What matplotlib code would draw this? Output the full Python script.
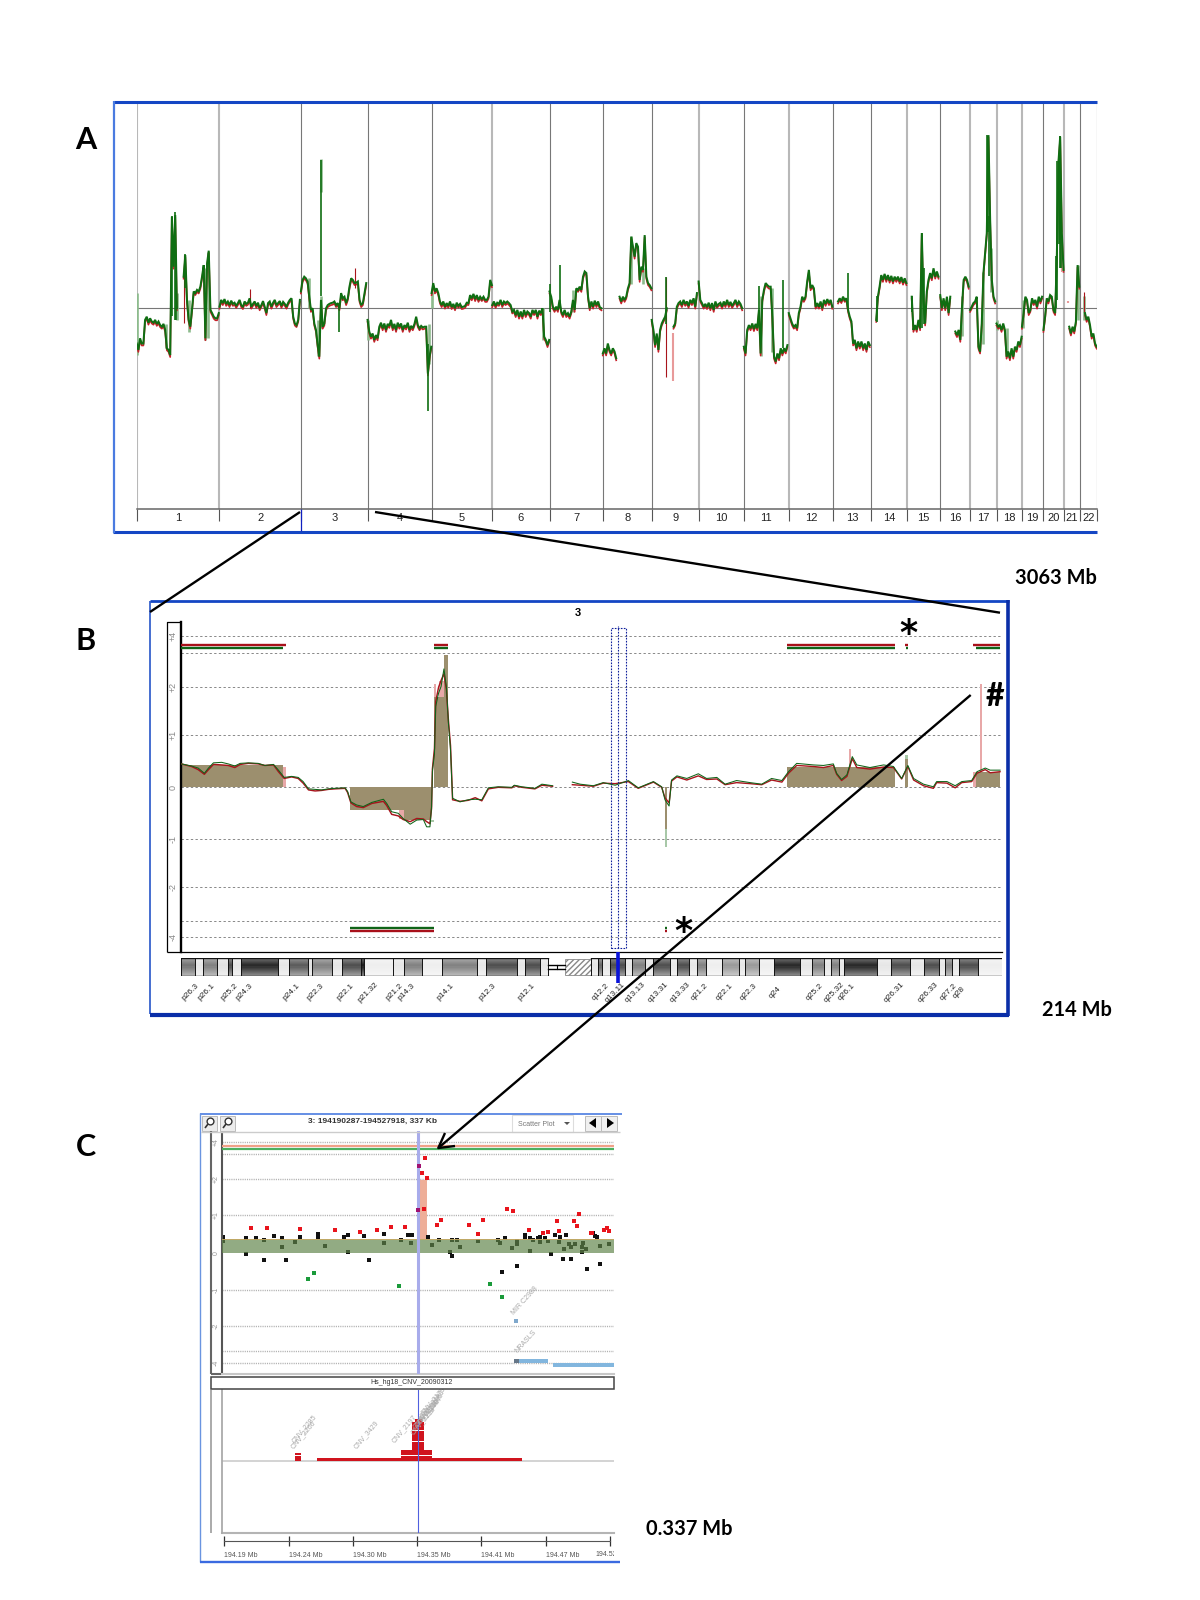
import numpy as np
import matplotlib
matplotlib.use("Agg")
import matplotlib.pyplot as plt
from matplotlib.patches import Rectangle, Polygon, Circle
from matplotlib.transforms import Bbox

nan = float("nan")
W, H = 1200, 1600
plt.rcParams["font.family"] = ["Liberation Sans", "DejaVu Sans"]

# ---------- Panel A : genome-wide log ratio, one reading every 5 Mb per chromosome ----------
chrom_names = [str(i) for i in range(1, 23)]
chrom_sizes = [247, 243, 199, 191, 181, 171, 159, 146, 140, 135, 134, 132, 114, 106, 100, 89, 79, 76, 64, 62, 47, 50]
sep_is_pale = [1, 1, 0, 0, 0, 1, 0, 0, 0, 1, 0, 1, 0, 0, 1, 0, 1, 1, 1, 0, 1, 0, 0]

chr01 = [-.88, -1.04, -.75, -.88, -.88, -.29, -.21, -.36, -.25, -.33, -.36, -.29, -.39, -.33, -.42, -.46, -.39, -.54, -1.0, -1.04, -1.17,
         2.29, 1.04, 2.33, 0.0, nan, nan, nan, .79, 1.33, .21, -.29, -.46, -.04, .42, .38, .46, .42, .54, .79, 1.08, -.75, 1.12, 1.44, -.04, -.12, -.21, -.25, -.25, -.12]
chr02 = [.04, .21, .13, .23, .11, .17, .08, .19, .11, .14, .06, .13, .21, .08, .03, .17, .11, .14, .25, .04, .11, .17, .06, .14, 0, .08, .18, .04, -.12, .13, .17, .04, .14, .21, .08, .13, .18, .06, .16, .11, .04, .14, .21, .25, -.21, -.38, -.42, -.29, .21]
chr03 = [.42, .71, .79, .75, .67, .29, -.04, 0, -.38, -.54, -.92, -1.21, .21, -.46, -.38, 0, .08, .11, .13, .14, .17, .08, .13, 0, .38, .25, .29, .13, .25, .54, .75, .71, .63, .64, .67, .21, .08, .13, .38, .63]
chr04 = [-.29, -.58, -.71, -.63, -.79, -.67, -.75, -.46, -.36, -.5, -.38, -.54, -.39, -.44, -.29, -.5, -.39, -.54, -.36, -.46, -.38, -.54, -.42, -.48, -.36, -.54, -.44, -.5, -.39, -.21, -.42, -.5, -.44, -.48, -.46, -.46, -1.63, -1.21, -.96]
chr05 = [.38, .63, .42, .5, .38, .17, .08, .17, .04, .13, .06, .17, .03, .11, 0, .14, .06, .11, .03, .04, .06, .14, .13, .33, .25, .36, .23, .33, .21, .29, .23, .29, .21, .21, .29, .71, .58]
chr06 = [.08, .17, .06, .14, .11, .21, .08, .17, .13, .17, .13, .08, -.08, -.04, -.17, -.04, -.21, -.08, -.21, -.04, -.17, -.08, -.12, -.21, -.04, -.12, -.04, -.21, -.06, -.12, 0, -.71, -.79, -.92, -.79]
chr07 = [.42, .29, .04, -.04, .04, -.04, .21, -.08, -.17, -.04, -.17, -.12, -.21, -.08, .21, -.04, .5, .46, .54, .46, .79, .92, .88, .29, 0, .17, .04, .19, .08, .17, .03, 0]
chr08 = [-1.13, -1.0, -1.13, -.88, -1.04, -1.13, -1.0, -1.08, -1.25, nan, .29, .17, .29, .21, .29, .5, .63, 1.79, 1.54, 1.29, 1.63, 1.54, .71, 1.04, .96, 1.83, .79, .63, .58, .5]
chr09 = [-.29, -.54, -.92, -.63, -1.04, -.54, -.38, -.29, -.21, 0, nan, nan, nan, -.46, -.38, .04, .13, .17, .08, .21, .11, .17, .06, .21, .13, .25, .04, .38]
chr10 = [.67, .21, .13, .04, .11, .03, .14, 0, .13, -.04, .17, .06, .11, .14, .04, .17, .08, .21, .08, .16, .06, .13, .21, .08, .17, .11, 0]
chr11 = [-.96, -1.13, -.54, -.42, -.5, -.38, -.52, -.39, -.5, -.04, -1.13, .21, .46, .63, .58, .54, .54, -.21, -1.21, -1.33, -1.13, -1.25, -1.0, -1.13, -1.0, -1.08, -.92]
chr12 = [-.12, -.25, -.38, -.46, -.42, -.5, -.12, .04, .29, .21, .29, .67, .96, .5, .58, .5, .04, .13, .04, .17, 0, .21, .11, .23, .13, .21, .04]
chr13 = [nan, nan, nan, .17, .25, .18, .29, .21, .25, -.04, -.21, -.33, -.88, -.79, -1.0, -.83, -.96, -.83, -1.0, -.88, -1.04, -.83, -.92]
chr14 = [nan, nan, nan, -.29, .29, .54, .83, .71, .86, .71, .83, .69, .81, .67, .79, .71, .79, .67, .78, .64, .75, .63]
chr15 = [nan, nan, nan, .29, -.54, -.42, -.54, -.29, -.5, 1.88, .21, -.38, .42, .71, .88, .75, 1.0, .79, .92, .79]
chr16 = [.33, 0, .25, 0, .29, -.12, .29, nan, nan, -.58, -.67, -.54, -.79, .04, .71, .79, .71, .54]
chr17 = [-.04, .04, .13, .17, .29, -.96, -1.08, -.38, .88, 1.38, 1.88, 4.33, 2.21, .71, .29, .17]
chr18 = [-.38, -.46, -.42, -.54, -.38, -.54, -1.21, -1.08, -1.25, -1.0, -1.21, -.96, -1.04, -.83, -.92, -.71]
chr19 = [-.46, -.12, .29, .21, -.12, -.04, .25, .13, .21, .04, .29, .17, .29]
chr20 = [-.54, -.21, .25, .17, .33, .29, -.04, -.12, 1.29, 3.67, 4.29, 1.88, .96]
chr21 = [nan, nan, nan, -.46, -.63, -.46, -.58, -.33, 1.08, .54]
chr22 = [nan, nan, nan, -.12, -.29, -.21, -.42, -.71, -.63, -.88, -.96]
chrom_traces = [chr01, chr02, chr03, chr04, chr05, chr06, chr07, chr08, chr09, chr10, chr11, chr12, chr13, chr14, chr15, chr16, chr17, chr18, chr19, chr20, chr21, chr22]

# (chromosome index from 1, Mb within chromosome, top, bottom)
pale_spikes = [(1, 0, .37, -1.17), (1, 87, -.4, -1.0), (1, 120, .37, -.29), (1, 155, .2, -.6), (1, 205, 1.0, -.8), (1, 212, 1.4, -.75),
               (3, 23, .75, 0), (3, 50, -.3, -1.2), (3, 60, .3, -.5), (3, 60, 3.73, 2.9), (4, 0, -.3, -.8), (4, 182, -.4, -1.4), (5, 0, .4, 0),
               (6, 152, 0, -.8), (7, 70, .45, -.1), (8, 85, 1.8, .6), (8, 120, 1.0, .6), (11, 52, .3, -1.2), (11, 85, .5, -1.1), (16, 65, .3, -.7),
               (17, 40, .9, -.9), (17, 62, 1.5, .4), (19, 3, .2, -.5), (21, 40, 1.08, -.3), (22, 13, .3, -.3), (18, 2, -.3, -.55), (18, 30, -.5, -1.2)]
dark_spikes = [(1, 105, 2.3, -.2), (1, 115, 2.4, -.3), (1, 118, .7, -.3), (1, 145, 1.35, .5), (3, 61, 3.7, .3), (3, 115, .1, -.6),
               (4, 180, -.9, -2.58), (7, 32, 1.08, 0), (7, 0, .6, -.1), (9, 44, .79, -.4), (11, 46, .55, -.2), (11, 116, .7, -1.0),
               (13, 45, .87, 0), (14, 16, .3, -.35), (15, 16, .3, -.1), (15, 45, 1.88, -.5), (15, 52, 1.0, -.4),
               (17, 52, 4.33, 1.9), (17, 54, 4.3, 1.9), (17, 58, 2.3, .8), (20, 37, 1.3, 0), (20, 42, 3.67, .2), (20, 45, 3.67, 1.6), (20, 48, 4.3, 1.7), (20, 50, 4.3, 1.0), (20, 52, 3.0, 1.0)]
dark_red_spikes = [(1, 140, 1.33, -.38), (2, 91, .47, 0), (3, 160, 1.0, .5), (9, 43, .79, -1.71), (22, 11, .4, -.1)]
pink_spikes = [(9, 65, -.63, -1.83), (20, 55, 1.9, .9), (21, 10, .17, .13)]

# ---------- Panel B : chromosome 3 profile ----------
b_p_mb = [0, 2.5, 4.1, 5.6, 6.6, 7.8, 9.8, 11.4, 13.0, 14.3, 16.3, 18.7, 20.3, 22.4, 23.6, 25.0, 26.8, 28.4, 29.6, 30.9, 32.5, 34.1, 35.7, 37.3, 39.8, 40.4, 41.2, 42.6, 44.2, 46.3, 49.1, 49.9, 51.1, 52.7, 53.9, 55.6, 57.2, 58.8, 59.6, 60.4, 60.8, 61.0, 61.5, 61.8, 62.5, 63.1, 63.8, 64.4, 64.9, 65.4, 65.7, 65.9, 67.7, 69.7, 71.4, 73.0, 74.6, 77.0, 80.3, 80.9, 82.7, 85.9, 87.6, 90.2]
b_p_green = [.45, .41, .37, .27, .37, .47, .48, .45, .41, .46, .47, .46, .42, .44, .33, .19, .21, .19, .11, -.03, -.04, -.05, -.03, -.02, -.01, -.08, -.28, -.34, -.37, -.29, -.23, -.31, -.47, -.5, -.6, -.71, -.63, -.62, -.76, -.76, -.37, .3, .65, 1.6, 1.88, 2.02, 2.54, 2.02, 1.25, .72, .14, -.21, -.28, -.24, -.23, -.24, -.01, .01, 0, .04, .01, -.02, .06, .03]
b_p_red = [.45, .4, .34, .25, .34, .44, .43, .42, .38, .44, .46, .45, .42, .43, .3, .17, .2, .17, .08, -.05, -.07, -.06, -.04, -.03, -.02, -.1, -.3, -.37, -.39, -.31, -.27, -.35, -.52, -.55, -.62, -.66, -.6, -.61, -.66, -.7, -.4, .35, .75, 1.7, 2.0, 2.2, 2.4, 1.95, 1.3, .8, .2, -.24, -.27, -.25, -.2, -.26, -.03, 0, -.01, .03, 0, -.03, .04, .02]
b_q_mb = [95.0, 96.9, 100.1, 102.5, 105.4, 108.6, 111.0, 114.7, 116.7, 117.5, 118.5, 119.1, 120.4, 122.8, 125.6, 127.6, 130.1, 132.1, 134.9, 138.2, 141.0, 143.4, 145.9, 147.5, 149.5, 153.6, 156.0, 158.4, 159.2, 160.4, 161.7, 163.0, 164.1, 167.3, 170.6, 173.0, 175.0, 176.5, 177.9, 180.3, 182.7, 183.5, 186.0, 188.0, 189.6, 192.0, 193.3, 195.3, 196.5, 198.9]
b_q_green = [.1, .06, .03, .09, .04, .13, -.01, .11, .01, -.24, -.36, .14, .22, .17, .26, .17, .19, .06, .13, .09, .06, .17, .13, .3, .46, .43, .42, .45, .27, .15, .24, .59, .43, .38, .43, .4, .17, .42, .17, .06, .01, .11, .11, .03, .11, .13, .3, .37, .33, .33]
b_q_red = [.05, .04, .02, .08, .07, .11, -.02, .1, 0, -.2, -.3, .12, .2, .14, .22, .15, .16, .05, .09, .07, .05, .14, .1, .27, .42, .4, .38, .42, .25, .13, .21, .55, .38, .35, .39, .38, .16, .4, .14, .03, -.02, .09, .08, -.01, .09, .11, .27, .34, .28, .3]
fill_start = [0, 41.0, 51.5, 54.2, 61.4, 63.8, 147.2, 175.9, 193.1, 117.5]
fill_end = [24.8, 51.5, 54.2, 60.7, 63.8, 64.8, 173.4, 176.6, 198.9, 118.0]
fill_level = [.43, -.44, -.44, -.62, 1.8, 2.96, .4, .55, .3, -.81]
pink_start = [24.8, 53.0, 61.4, 62.5, 162.1, 192.4, 194.1]
pink_end = [25.4, 54.2, 61.9, 63.8, 162.7, 193.1, 194.5]
pink_low = [0, -.6, 1.8, 1.8, .4, 0, .3]
pink_high = [.4, -.44, 2.1, 2.2, .73, .3, 2.1]
pale_start = [117.5, 175.9, 60.7]
pale_end = [118.0, 176.6, 61.4]
pale_low = [-1.16, .55, -.66]
pale_high = [-.81, .62, -.62]
gain_red = [(0, 25.4), (61.4, 64.8), (147.2, 173.4), (175.9, 176.6), (192.4, 198.9)]
gain_green = [(0, 24.7), (61.4, 64.8), (147.2, 173.4), (176.0, 176.5), (193.1, 198.9)]
loss_bars = [(41.0, 61.4), (117.5, 118.0)]
b_grid = [4, 3, 2, 1, 0, -1, -2, -3, -4]
b_ticks = [4, 2, 1, 0, -1, -2, -4]
b_tick_labels = ["+4", "+2", "+1", "0", "-1", "-2", "-4"]
b_scale_v = [-5, -4, -3, -2, -1, 0, 1, 2, 3, 4, 5]
band_edges = [0, 3.3, 5.3, 8.6, 11.4, 12.2, 14.5, 23.6, 26.2, 30.7, 31.8, 36.5, 39.1, 43.7, 44.5, 51.4, 54.2, 58.4, 63.4, 71.8, 73.9, 81.6, 83.6, 87.1, 89.2, 93.1,
              99.6, 101.3, 102.3, 104.2, 107.8, 109.4, 112.6, 114.7, 118.7, 120.4, 123.4, 125.2, 127.4, 131.3, 135.4, 137, 140.3, 144.1, 150.2, 153.2, 156.1, 157.8, 159.7, 160.9, 169, 172.4, 177, 180.4, 184, 185.6, 187.2, 189, 193.6, 199.3]
band_shade = [.45, .9, .5, .88, .3, .9, .15, .9, .35, .88, .5, .9, .3, .1, .93, .9, .5, .93, .5, .9, .3, .9, .3, .9, nan, nan,
              .9, .4, .9, .3, .9, .5, .9, .3, .9, .3, .9, .5, .93, .6, .9, .6, .93, .15, .9, .5, .9, .5, .9, .15, .9, .3, .9, .3, .9, .5, .9, .3, .93]
band_names = ["p26.3", "p26.1", "p25.2", "p24.3", "p24.1", "p22.3", "p22.1", "p21.32", "p21.2", "p14.3", "p14.1", "p12.3", "p12.1",
              "q12.2", "q13.11", "q13.13", "q13.31", "q13.33", "q21.2", "q22.1", "q22.3", "q24", "q25.2", "q25.32", "q26.1", "q26.31", "q26.33", "q27.2", "q28"]
band_label_mb = [2.1, 6.2, 11.8, 15.3, 26.8, 32.5, 39.8, 45.3, 51.8, 54.8, 64.1, 74.4, 83.9,
                 101.9, 105.4, 110.2, 115.9, 121.2, 125.9, 131.9, 137.7, 144.3, 153.8, 158.7, 161.7, 173.2, 181.4, 186.4, 189.0]

# ---------- Panel C : zoomed scatter, x in kb from the left of the window ----------
red_kb = [25.0, 38.7, 67.4, 97.6, 119.1, 134, 146.1, 157.6, 185.4, 188.8, 212.7, 220.4, 225, 246, 251.1, 264.9, 277.2, 281.3, 289, 290.2, 303.4, 306.2, 307.9, 317.7, 319.4, 329.5, 331.8, 333.5, 175.4, 172.2, 176.5, 174.2]
red_val = [.65, .66, .63, .61, .54, .6, .69, .69, .73, .88, .73, .5, .86, 1.17, 1.11, .59, .52, .56, .83, .58, .83, .72, 1.02, .51, .51, .59, .65, .58, 2.83, 2.25, 2.06, 1.18]
purple_kb = [169.9, 168.8]
purple_val = [2.53, 1.15]
black_kb = [1.4, 1.4, 21, 21, 29.3, 36.2, 36.2, 45.3, 51.7, 51.7, 55.7, 62.9, 67.4, 83.2, 83.2, 89.3, 105, 109, 109, 122.8, 127.1, 140, 140, 154.4, 160.7, 164.2, 163, 177.9, 181.1, 187.1, 196.6, 198, 198, 202.6, 205.2, 220.4, 237.6, 239.6, 241.4, 244.2, 250.3, 254, 254, 254, 261.5, 261.5, 266, 266, 267.8, 272.7, 273.8, 273.8, 278.7, 281.3, 283.3, 287, 290.2, 291.6, 293.6, 295.3, 296.5, 299.6, 300.5, 300.5, 304.5, 310, 310, 311.1, 313.4, 315.1, 320, 321.4, 323.7, 325.7, 325.7, 333.5]
black_val = [.42, .32, .38, -.04, .38, .35, -.2, .43, .39, .14, -.2, .29, .41, .5, .42, .19, .41, .46, .03, .44, -.2, .49, .26, .35, .46, .46, .25, .42, .2, .35, .01, .35, -.08, .35, .14, .32, .35, .25, -.5, .38, .12, .32, .23, -.36, .47, .42, .4, .04, .33, .4, .42, .29, .38, .32, -.04, .46, .29, .42, -.17, .09, .46, .22, .14, -.17, .22, .14, .02, .27, .1, -.43, .51, .44, .42, .19, -.29, .24]
green_kb = [74.3, 79.5, 152.4, 231, 241.4]
green_val = [-.7, -.54, -.88, -.83, -1.18]
probe_kb = [253.4]
probe_val = [-1.85]
gene_start = [251.7, 285.6]
gene_end = [281.5, 338.0]
gene_low = [-4.02, -4.35]
gene_high = [-3.68, -4.0]
c_grid = [4, 3, 2, 1, -1, -2, -3, -4]
c_ticks = [4, 2, 1, 0, -1, -2, -4]
c_tick_labels = ["+4", "+2", "+1", "0", "-1", "-2", "-4"]
c_band_top = .36
c_peak_kb = (169.5, 176.6)
c_peak_top = 1.98
c_cursor_kb = 169.1
x_tick_kb = [2.2, 57.7, 112.7, 168.2, 223.7, 279.0, 334.9]
x_tick_labels = ["194.19 Mb", "194.24 Mb", "194.30 Mb", "194.35 Mb", "194.41 Mb", "194.47 Mb"]
cnv_start = [82.4, 63.1, 63.1, 63.1, 154.1, 154.1, 154.1] + [163.6] * 10 + [166.5]
cnv_end = [258.9, 68, 68, 68, 180.8, 180.8, 180.8] + [174.5] * 10 + [172.2]
cnv_level = [0, 0, 1, 2, 1, 2, 3] + [4, 5, 6, 7, 8, 9, 10, 11, 12, 13] + [14]
cnv_names = ["CNV_2266", "CNV_2285", "CNV_3429", "CNV_2197", "CNV_2198", "CNV_2193", "CNV_2190", "CNV_2187", "CNV_2185", "CNV_2183", "CNV_2179"]
cnv_name_kb = [63, 64, 117, 150, 166, 168, 170, 172, 173, 174, 175]
cnv_name_level = [4, 6, 4, 6, 9, 11, 12, 13, 14, 15, 16]

# ---------- helpers ----------
fig = plt.figure(figsize=(W / 100, H / 100), dpi=100, facecolor="white")

def place(x0, y0, x1, y1, **kw):
    ax = fig.add_axes([x0 / W, 1 - y1 / H, (x1 - x0) / W, (y1 - y0) / H], **kw)
    ax.patch.set_alpha(0)
    return ax

def warped(ax, knots_v, knots_px):
    px = -np.array(knots_px, float)
    v = np.array(knots_v, float)
    ax.set_yscale("function", functions=(lambda a: np.interp(a, v, px), lambda a: np.interp(a, px, v)))
    ax.set_ylim(v[0], v[-1])

# ---------- Panel A ----------
axA = place(136.7, 102, 1096.7, 509)
starts = np.concatenate([[0], np.cumsum(chrom_sizes)])
axA.set_xlim(0, starts[-1])
axA.set_ylim((308.3 - 509) / 40, (308.3 - 102) / 40)
for s in ["top", "left", "right"]:
    axA.spines[s].set_visible(False)
axA.spines["bottom"].set_color("#666666")
axA.spines["bottom"].set_linewidth(1.1)
axA.set_yticks([])
axA.set_xticks(starts)
axA.set_xticklabels([])
axA.tick_params(axis="x", which="major", length=8.6, width=.8, color="#555555")
axA.set_xticks(starts[:-1] + np.array(chrom_sizes) / 2, minor=True)
axA.set_xticklabels(chrom_names, minor=True, fontsize=8, color="#222222")
axA.tick_params(axis="x", which="minor", length=0, pad=3)
for b, p in zip(starts, sep_is_pale):
    axA.axvline(b, color="#b8b8b8" if p else "#777777", lw=1.5 if p else .8, zorder=1)
axA.axhline(0, color="#777777", lw=.8, zorder=1)

def spikes(items, color, lw, z):
    for c, pos, top, bot in items:
        axA.plot([starts[c - 1] + pos] * 2, [bot, top], color=color, lw=lw, zorder=z, solid_capstyle="butt")

spikes(pale_spikes, "#8dbb8d", 1.9, 2)
for i, tr in enumerate(chrom_traces):
    x = starts[i] + 5 * np.arange(len(tr))
    y = np.array(tr)
    axA.plot(x, y - .05, color="#c8202a", lw=1.2, zorder=3)
    axA.plot(x, y, color="#0f6e12", lw=1.45, zorder=4, solid_joinstyle="miter")
spikes(pink_spikes, "#e89a9a", 1.5, 3)
spikes(dark_red_spikes, "#a8141c", .8, 3)
spikes(dark_spikes, "#0f6e12", 1.2, 4)

# ---------- Panel B ----------
axB = place(181.3, 622.3, 1001.7, 952.3)
axB.set_xlim(0, 199.3)
warped(axB, b_scale_v, [952.3, 937.3, 921.3, 887.3, 839.3, 787.3, 735.3, 687.3, 653.3, 636.3, 622.3])
for s in ["top", "right"]:
    axB.spines[s].set_visible(False)
axB.spines["left"].set_linewidth(1.7)
axB.spines["bottom"].set_linewidth(.9)
axB.set_xticks([])
axB.yaxis.set_major_locator(matplotlib.ticker.FixedLocator(b_ticks))
axB.yaxis.set_major_formatter(matplotlib.ticker.FixedFormatter(b_tick_labels))
axB.yaxis.set_minor_locator(matplotlib.ticker.NullLocator())
axB.tick_params(axis="y", length=0, pad=2.5, labelsize=6.5, labelcolor="#888888")
for t in axB.get_yticklabels():
    t.set_rotation(90)
    t.set_va("center")
for g in b_grid:
    axB.axhline(g, color="#888888", lw=.7, dashes=(2.4, 2.4), zorder=1)
for a, b, l in zip(fill_start, fill_end, fill_level):
    axB.fill_between([a, b], 0, l, color="#9c8f6e", lw=0, zorder=2)
for a, b, l, h in zip(pink_start, pink_end, pink_low, pink_high):
    axB.fill_between([a, b], l, h, color="#e8a8a8", lw=0, zorder=2)
for a, b, l, h in zip(pale_start, pale_end, pale_low, pale_high):
    axB.fill_between([a, b], l, h, color="#a8c8a8", lw=0, zorder=2)
axB.plot(b_p_mb, b_p_red, color="#a8141c", lw=1.05, zorder=3)
axB.plot(b_q_mb, b_q_red, color="#a8141c", lw=1.0, zorder=3)
axB.plot(b_p_mb, b_p_green, color="#0f6418", lw=.75, zorder=4)
axB.plot(b_q_mb, b_q_green, color="#0f6418", lw=.75, zorder=4)
for a, b in gain_red:
    axB.plot([a, b], [3.49, 3.49], color="#a8101a", lw=1.7, solid_capstyle="butt", zorder=4)
for a, b in gain_green:
    axB.plot([a, b], [3.31, 3.31], color="#0f6418", lw=1.7, solid_capstyle="butt", zorder=4)
for a, b in loss_bars:
    axB.plot([a, b], [-3.42, -3.42], color="#0f6418", lw=1.7, solid_capstyle="butt", zorder=4)
    axB.plot([a, b], [-3.58, -3.58], color="#a8101a", lw=1.7, solid_capstyle="butt", zorder=4)
axB.add_patch(Rectangle((104.5, -4.72), 3.5, 9.3, fill=False, ec="#10209c", lw=.8, ls=(0, (1.5, 1.2)), zorder=5, clip_on=False))
axB.plot([106.2, 106.2], [-4.72, 4.72], color="#10209c", lw=.8, ls=(0, (1.5, 1.2)), zorder=5)

# ideogram
axI = place(181.3, 958.3, 1001.7, 975.7)
axI.set_xlim(0, 199.3)
axI.set_ylim(1, 0)
t = np.linspace(0, 1, 18)
prof = np.abs((t[:-1] + t[1:]) / 2 - .42)
sh = np.array(band_shade)
C = sh[None, :] + (1 - sh[None, :]) * 0.85 * prof[:, None]
cmap = plt.get_cmap("gray").copy()
cmap.set_bad("white", 0)
axI.pcolormesh(band_edges, t, np.ma.masked_invalid(C), cmap=cmap, vmin=0, vmax=1, shading="flat", zorder=1)
for i, e in enumerate(band_edges):
    if e in (93.1,):
        continue
    axI.plot([e, e], [0, 1], color="#111111", lw=.7, zorder=2)
axI.add_patch(Rectangle((93.1, 0.02), 6.5, .96, fc="white", ec="#888888", hatch="//////", lw=.6, zorder=1))
axI.plot([89.2, 93.1], [.38, .38], color="black", lw=1, zorder=2)
axI.plot([89.2, 93.1], [.62, .62], color="black", lw=1, zorder=2)
axI.plot([91.2, 91.2], [.38, .62], color="black", lw=.8, zorder=2)
axI.plot([0, 89.2], [0, 0], color="#111111", lw=1, zorder=3)
axI.plot([0, 89.2], [1, 1], color="#111111", lw=1, zorder=3)
axI.plot([99.6, 199.3], [0, 0], color="#111111", lw=1, zorder=3)
axI.plot([99.6, 199.3], [1, 1], color="#111111", lw=1, zorder=3)
axI.axis("off")
for m, name in zip(band_label_mb, band_names):
    axI.annotate(name, (m, 1), xytext=(0, -12), textcoords="offset points", rotation=45, ha="center", va="center",
                 fontsize=6, color="#222222", annotation_clip=False)

# ---------- Panel C ----------
axC = place(221.7, 1131, 614.3, 1374)
axC.set_xlim(0, 338.2)
warped(axC, [-5, -4, -3, -2, -1, 0, 1, 2, 3, 4, 5], [1374, 1362.7, 1351, 1326.3, 1290.3, 1252.7, 1215, 1179.3, 1154, 1141.7, 1131])
for s in ["top", "right"]:
    axC.spines[s].set_visible(False)
axC.spines["left"].set_linewidth(1.5)
axC.spines["left"].set_color("#555555")
axC.spines["bottom"].set_color("#c8c8c8")
axC.spines["bottom"].set_linewidth(1.5)
axC.set_xticks([])
axC.yaxis.set_major_locator(matplotlib.ticker.FixedLocator(c_ticks))
axC.yaxis.set_major_formatter(matplotlib.ticker.FixedFormatter(c_tick_labels))
axC.yaxis.set_minor_locator(matplotlib.ticker.NullLocator())
axC.tick_params(axis="y", length=0, pad=1.5, labelsize=5, labelcolor="#999999")
for t in axC.get_yticklabels():
    t.set_rotation(90)
    t.set_va("center")
for g in c_grid:
    axC.axhline(g, color="#b0b0b0", lw=1, ls=(0, (.8, .8)), zorder=1)
axC.scatter(black_kb, black_val, marker="s", s=10, color="#111111", lw=0, zorder=2)
axC.scatter(red_kb, red_val, marker="s", s=10, color="#e8141c", lw=0, zorder=2)
axC.scatter(green_kb, green_val, marker="s", s=10, color="#1a9a3a", lw=0, zorder=2)
axC.scatter(probe_kb, probe_val, marker="s", s=12, color="#7fa8cc", lw=0, zorder=2)
axC.fill_between([0, 338.2], 0, c_band_top, color="#5f8448", alpha=.68, lw=0, zorder=3)
axC.plot([0, 338.2], [c_band_top, c_band_top], color="#c8a860", lw=.6, zorder=3)
axC.fill_between(c_peak_kb, c_band_top, c_peak_top, color="#eeae98", lw=0, zorder=1.5)
axC.plot([0, 338.2], [3.62, 3.62], color="#f0a088", lw=1.6, solid_capstyle="butt", zorder=3)
axC.plot([0, 338.2], [3.42, 3.42], color="#4caf60", lw=1.6, solid_capstyle="butt", zorder=3)
axC.axvline(c_cursor_kb, color="#a8aceb", lw=2.2, zorder=3.5)
axC.scatter(purple_kb, purple_val, marker="s", s=10, color="#a01070", lw=0, zorder=4)
for a, b, l, h in zip(gene_start, gene_end, gene_low, gene_high):
    axC.fill_between([a, b], l, h, color="#82b6de", lw=0, zorder=3)
axC.fill_between([251.7, 256], -4.02, -3.68, color="#667788", lw=0, zorder=3)
axC.text(253.5, -1.72, "MIR C2988", rotation=48, fontsize=5, color="#a8a8a8", ha="left", va="bottom", rotation_mode="anchor")
axC.text(256, -3.3, "NRASLS", rotation=48, fontsize=5, color="#a8a8a8", ha="left", va="bottom", rotation_mode="anchor")

axT = place(221.7, 1390, 614.3, 1532.7)
axT.set_xlim(0, 338.2)
axT.set_ylim(-25.9, 25.6)
axT.axhline(0, color="#cccccc", lw=1.2, zorder=1)
axT.barh(np.array(cnv_level) + .5, np.array(cnv_end) - np.array(cnv_start), left=cnv_start, height=.92, color="#d0141e", lw=0, zorder=2)
axT.axvline(c_cursor_kb, color="#5060e0", lw=.8, zorder=3)
for s in ["top", "right"]:
    axT.spines[s].set_visible(False)
axT.spines["left"].set_color("#aaaaaa")
axT.spines["left"].set_linewidth(1.3)
axT.set_yticks([])
axT.spines["bottom"].set_position(("outward", 6.3))
axT.spines["bottom"].set_bounds(x_tick_kb[0], x_tick_kb[-1])
axT.spines["bottom"].set_color("#555555")
axT.axhline(-25.9, color="#b4b4b4", lw=1.5, clip_on=False, zorder=1)
axT.set_xticks(x_tick_kb)
axT.set_xticklabels(x_tick_labels + [""], fontsize=5, color="#555555", ha="left")
axT.tick_params(axis="x", direction="inout", length=7, width=.9, color="#333333", pad=4)
for kb, lv, nm in zip(cnv_name_kb, cnv_name_level, cnv_names):
    axT.text(kb, lv, nm, rotation=50, fontsize=5, color="#aaaaaa", ha="left", va="bottom", rotation_mode="anchor")

# ---------- overlay in page pixels ----------
ov = fig.add_axes([0, 0, 1, 1], zorder=20)
ov.set_xlim(0, W)
ov.set_ylim(H, 0)
ov.axis("off")

blue = "#1446c4"
deep = "#0a2ea8"
def ln(xs, ys, c="black", lw=1.0, **kw):
    ov.plot(xs, ys, color=c, lw=lw, solid_capstyle="butt", **kw)

# frames
ln([113, 1097], [102, 102], blue, 2.2)
ln([113, 1097], [532, 532], blue, 2.2)
ln([114, 114], [101, 533], "#4a7be0", 1.6)
ln([300.7, 300.7], [509, 531], "#1020c0", .9)

ln([150, 1009], [601, 601], blue, 2)
ln([150, 150], [601, 1014], "#1446c4", 1.1)
ln([150, 1009], [1015, 1015], deep, 3)
ln([1008, 1008], [600, 1016], deep, 2.6)

ln([200, 622], [1113.5, 1113.5], "#4a7be0", 1.2)
ln([200.3, 200.3], [1113, 1562], "#6a94e0", 1.0)
ln([200, 620], [1561.5, 1561.5], "#3a6ae0", 1.7)

# B value-axis box and selection bar
ln([166.7, 166.7, 181.3], [952.3, 622.3, 622.3], "black", .9)
ln([166.7, 181.3], [952.3, 952.3], "black", .9)
ln([618.3, 618.3], [952, 982.7], "#0a14d8", 2.6)

# C value-axis box, track header and toolbar
ln([211, 211], [1131, 1374], "#666666", 1.5)
ln([211, 221], [1374, 1374], "#666666", 1.5)
ln([211, 211], [1390, 1533], "#aaaaaa", 1.4)
ov.add_patch(Rectangle((211, 1376.7), 403, 12.3, fc="white", ec="#444444", lw=1.1))
ov.text(412, 1383, "Hs_hg18_CNV_20090312", fontsize=5, color="#333333", ha="center", va="center")
ln([201, 620], [1131.5, 1131.5], "#cccccc", 1.0)
for x0 in (202, 220):
    ov.add_patch(Rectangle((x0, 1116), 15, 15, fc="#ececec", ec="#bbbbbb", lw=.7))
    ov.add_patch(Circle((x0 + 8.5, 1121.5), 3.4, fc="white", ec="#333333", lw=1))
    ln([x0 + 6, x0 + 3], [1124, 1128], "#333333", 1.2)
ov.text(372, 1121.5, "3: 194190287-194527918, 337 Kb", fontsize=6, color="#333333", ha="center", va="center", fontweight="bold")
ov.add_patch(Rectangle((511.7, 1115), 61.3, 16.5, fc="white", ec="#dddddd", lw=.8))
ov.text(536.7, 1124, "Scatter Plot", fontsize=5, color="#777777", ha="center", va="center")
ov.add_patch(Polygon([[564, 1122], [570, 1122], [567, 1125]], fc="#555555", ec="none"))
for x0, pts in ((585, [[596, 1118], [596, 1128], [589, 1123]]), (601, [[607, 1118], [607, 1128], [614, 1123]])):
    ov.add_patch(Rectangle((x0, 1116), 16, 15, fc="#f0f0f0", ec="#bbbbbb", lw=.7))
    ov.add_patch(Polygon(pts, fc="black", ec="none"))
t194 = ov.text(595, 1555, "194.52", fontsize=5, color="#555555", ha="left", va="center")
t194.set_clip_box(Bbox([[0, 0], [614, H]]))
t194.set_clip_on(True)

# zoom guide lines and arrow
ln([300, 150], [512, 612], "black", 1.7)
ln([375, 1000], [512, 612.7], "black", 1.7)
ln([970.7, 438.3], [695, 1148], "black", 1.7)
ln([445, 438.3, 455], [1133, 1148, 1146], "black", 1.7)

# panel text
for s, y in (("A", 140), ("B", 641), ("C", 1147)):
    ov.text(86, y, s, fontsize=22, fontweight="bold", family="Lato", color="black", ha="center", va="center")
ov.text(1097, 577.5, "3063 Mb", fontsize=14.4, fontweight="bold", family="Lato", ha="right", va="center")
ov.text(1112, 1010, "214 Mb", fontsize=14.4, fontweight="bold", family="Lato", ha="right", va="center")
ov.text(646, 1529, "0.337 Mb", fontsize=14.4, fontweight="bold", family="Lato", ha="left", va="center")
ov.text(578, 612.7, "3", fontsize=8, fontweight="bold", ha="center", va="center")
ov.text(908, 634, "*", fontsize=25, fontweight="bold", family="DejaVu Sans", ha="center", va="center")
ov.text(683, 932, "*", fontsize=25, fontweight="bold", family="DejaVu Sans", ha="center", va="center")
ov.text(995, 697, "#", fontsize=23, fontweight=900, family="Lato", ha="center", va="center")

fig.savefig("out.png", dpi=100)
